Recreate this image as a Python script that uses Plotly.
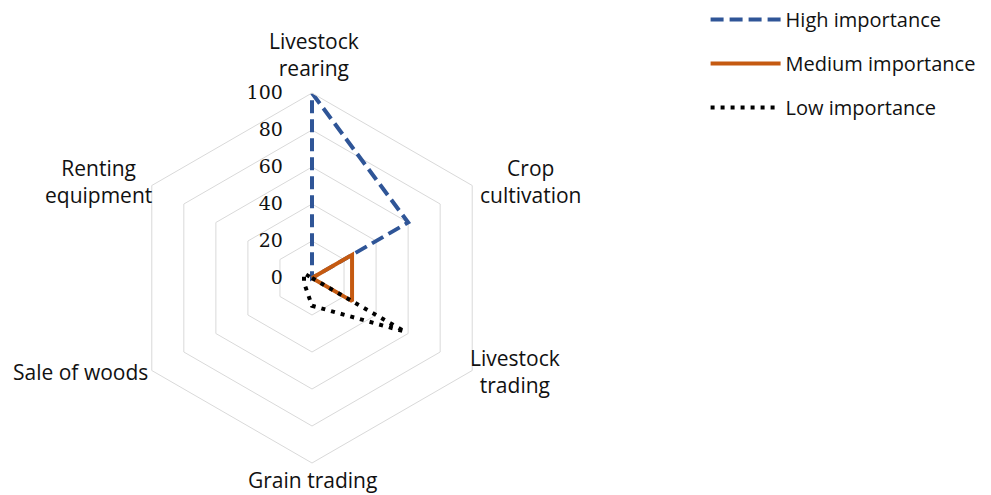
import plotly.graph_objects as go

# Categories around the radar, clockwise from the top
categories = ["Livestock rearing", "Crop cultivation", "Livestock trading",
              "Grain trading", "Sale of woods", "Renting equipment"]
category_labels = ["Livestock<br>rearing", "Crop<br>cultivation", "Livestock<br>trading",
                   "Grain trading", "Sale of woods", "Renting<br>equipment"]

high_importance = [100, 60, 0, 0, 0, 0]
medium_importance = [0, 25, 25, 0, 0, 0]
low_importance = [0, 0, 58, 15, 5, 5]

radial_ticks = [0, 20, 40, 60, 80, 100]


def closed(values):
    return values + values[:1]


theta = closed(categories)

fig = go.Figure()
fig.add_trace(go.Scatterpolar(
    r=closed(high_importance), theta=theta, mode="lines", name="High importance",
    legendgroup="high", line=dict(color="#2F5597", width=4, dash="13px,6px"),
))
fig.add_trace(go.Scatterpolar(
    r=closed(medium_importance), theta=theta, mode="lines", name="Medium importance",
    legendgroup="medium", line=dict(color="#C55A11", width=4),
))
fig.add_trace(go.Scatterpolar(
    r=closed(low_importance), theta=theta, mode="lines", name="Low importance",
    legendgroup="low", line=dict(color="#000000", width=4, dash="4px,6px"),
))

W, H = 991, 495
cx, cy, R = 312, 278, 185

# Category labels placed around the outer hexagon (pixel positions of text centres)
label_pos = [(314, 54), (530, 181), (515, 371), (312, 480), (80, 372), (98, 181)]
for text, (px, py) in zip(category_labels, label_pos):
    fig.add_annotation(
        x=px / W, y=1 - py / H, xref="paper", yref="paper",
        text=text, showarrow=False, align="center", borderpad=0,
        xanchor="center", yanchor="middle",
        font=dict(family="Open Sans, sans-serif", size=21, color="#111111"),
    )

fig.update_layout(
    width=W, height=H,
    margin=dict(l=0, r=0, t=0, b=0),
    paper_bgcolor="white",
    plot_bgcolor="white",
    font=dict(family="Open Sans, sans-serif", size=20, color="#111111"),
    polar=dict(
        domain=dict(x=[(cx - R) / W, (cx + R) / W], y=[1 - (cy + R) / H, 1 - (cy - R) / H]),
        gridshape="linear",
        bgcolor="white",
        radialaxis=dict(
            range=[0, 100], tickvals=radial_ticks, angle=90, side="counterclockwise",
            tickangle=90,
            showline=False, gridcolor="#d9d9d9", gridwidth=1,
            ticks="outside", ticklen=22, tickcolor="rgba(0,0,0,0)",
            tickfont=dict(family="DejaVu Serif, serif", size=19, color="#111111"),
        ),
        angularaxis=dict(
            rotation=90, direction="clockwise", showgrid=False,
            showline=True, linecolor="#d9d9d9", linewidth=1, ticks="",
            showticklabels=False,
        ),
    ),
    legend=dict(
        x=0.712, y=1.0, xanchor="left", yanchor="top",
        itemwidth=70, tracegroupgap=15,
        font=dict(family="Open Sans, sans-serif", size=20, color="#111111"),
        bgcolor="rgba(0,0,0,0)",
    ),
)

fig.write_html("out.html")
